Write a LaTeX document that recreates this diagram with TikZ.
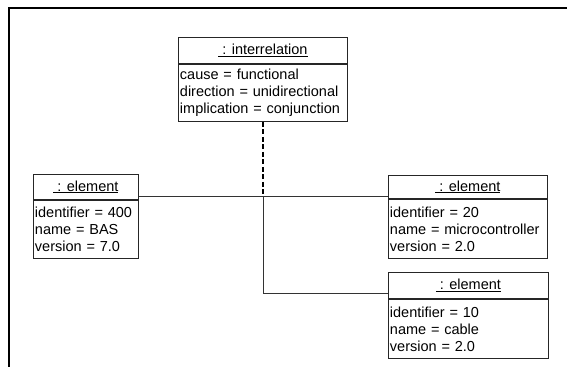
\documentclass[tikz,border=0pt]{standalone}
\usepackage{fontspec}
\setmainfont{Liberation Sans}
\begin{document}
\begin{tikzpicture}[x=1pt,y=-1pt,
  every node/.style={font=\fontsize{14.5}{17}\selectfont},
  objhead/.style={draw=black!85, line width=0.9pt, anchor=north west, inner sep=0pt, minimum height=#1},
  objbody/.style={draw=black!85, line width=0.9pt, anchor=north west, inner xsep=1.5pt, inner ysep=0pt, align=left, minimum height=#1},
  link/.style={draw=black!80, line width=0.7pt},
  dashlink/.style={draw=black, line width=2pt, dash pattern=on 5pt off 2.5pt},
  frameline/.style={draw=black, line width=1.3pt}
]
\useasboundingbox (0,0) rectangle (567,367);
\draw[frameline] (567,8) -- (9,8) -- (9,367);

% interrelation
\node[objhead=26, minimum width=169] (ir) at (178,37) {\underline{\ : interrelation}};
\node[objbody=57, text width=166] (irb) at (ir.south west) {cause = functional\\direction = unidirectional\\implication = conjunction};

% left element
\node[objhead=25, minimum width=105] (e1) at (33,174) {\underline{\ : element}};
\node[objbody=58, text width=102] (e1b) at (e1.south west) {identifier = 400\\name = BAS\\version = 7.0};

% right middle element
\node[objhead=23, minimum width=159] (e2) at (388,175) {\underline{\ : element}};
\node[objbody=59, text width=156] (e2b) at (e2.south west) {identifier = 20\\name = microcontroller\\version = 2.0};

% right bottom element
\node[objhead=26, minimum width=160] (e3) at (388,272) {\underline{\ : element}};
\node[objbody=59, text width=157] (e3b) at (e3.south west) {identifier = 10\\name = cable\\version = 2.0};

% connectors
\path ([yshift=4pt]e1.south east) coordinate (h);
\coordinate (j) at (irb.south |- h);
\draw[link] (h) -- (h -| e2.west);
\draw[link] (j) |- ([yshift=6pt]e3.south west);
\draw[dashlink] (irb.south) -- (j);
\end{tikzpicture}
\end{document}
